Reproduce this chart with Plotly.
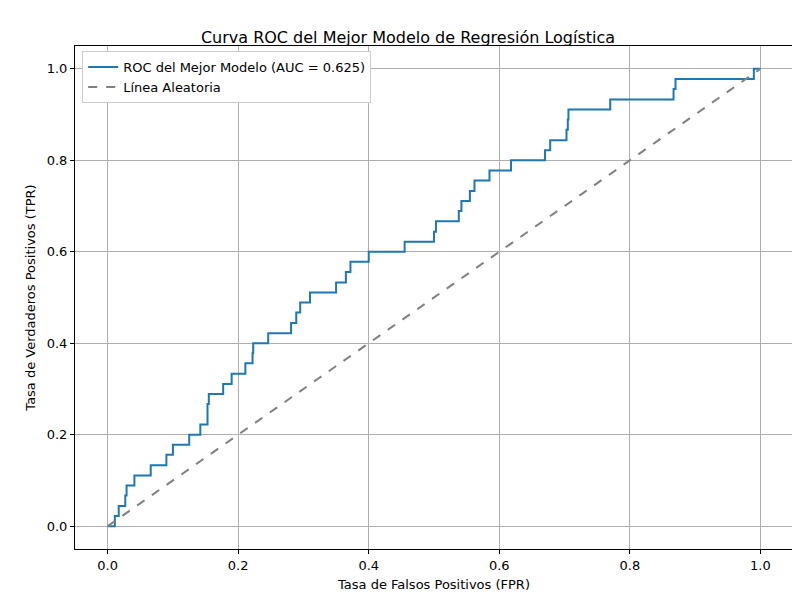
import plotly.graph_objects as go

fpr = [0.0, 0.011, 0.017, 0.027, 0.029, 0.041, 0.066, 0.09, 0.10, 0.125, 0.142, 0.153, 0.155,
       0.177, 0.19, 0.211, 0.222, 0.223, 0.246, 0.281, 0.289, 0.295, 0.31, 0.35, 0.365, 0.372,
       0.40, 0.455, 0.50, 0.503, 0.538, 0.542, 0.555, 0.562, 0.585, 0.618, 0.67, 0.678, 0.703,
       0.705, 0.706, 0.77, 0.867, 0.87, 0.99, 1.0]
tpr = [0.0, 0.022, 0.044, 0.067, 0.089, 0.111, 0.133, 0.156, 0.178, 0.2, 0.222, 0.267, 0.289,
       0.311, 0.333, 0.356, 0.378, 0.4, 0.422, 0.444, 0.467, 0.489, 0.511, 0.533, 0.556, 0.578,
       0.6, 0.622, 0.644, 0.667, 0.689, 0.711, 0.733, 0.756, 0.778, 0.8, 0.822, 0.844, 0.867,
       0.889, 0.911, 0.933, 0.956, 0.978, 1.0, 1.0]
auc = 0.625

fig = go.Figure()
fig.add_trace(go.Scatter(x=fpr, y=tpr, mode="lines", line_shape="hv",
                         line=dict(color="#1f77b4", width=2),
                         name=f"ROC del Mejor Modelo (AUC = {auc:.3f})"))
fig.add_trace(go.Scatter(x=[0, 1], y=[0, 1], mode="lines",
                         line=dict(color="gray", width=2, dash="dash"),
                         name="Línea Aleatoria"))

ax = dict(showgrid=True, gridcolor="#b0b0b0", gridwidth=1, zeroline=False,
          showline=True, linecolor="black", mirror=True, ticks="outside",
          ticklen=4, tickcolor="black", tickfont=dict(size=13, color="black"),
          range=[-0.05, 1.05], dtick=0.2, tickformat=".1f", automargin=False)
fig.update_layout(
    width=800, height=600, plot_bgcolor="white", paper_bgcolor="white",
    font=dict(family="DejaVu Sans", color="black"),
    margin=dict(l=67, r=15, t=38, b=59, autoexpand=False),
    title=dict(text="Curva ROC del Mejor Modelo de Regresión Logística",
               x=0.5, xanchor="center", y=0.96, font=dict(size=16)),
    xaxis=dict(ax, title=dict(text="Tasa de Falsos Positivos (FPR)", font=dict(size=13), standoff=8)),
    yaxis=dict(ax, title=dict(text="Tasa de Verdaderos Positivos (TPR)", font=dict(size=13), standoff=8)),
    legend=dict(x=0.01, y=0.99, xanchor="left", yanchor="top", bgcolor="white",
                bordercolor="#cccccc", borderwidth=1, font=dict(size=13)),
)
fig.write_html("out.html")
